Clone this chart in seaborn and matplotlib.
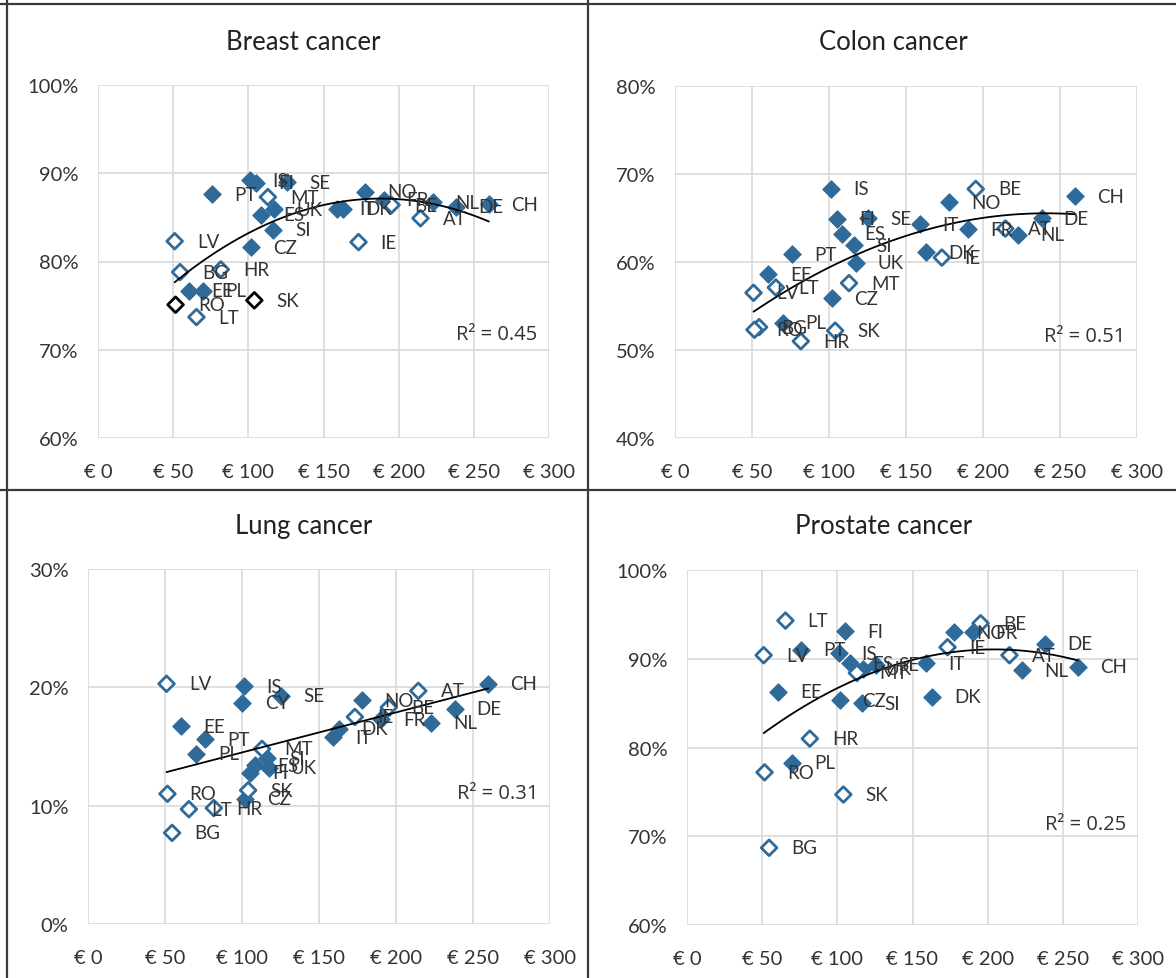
import numpy as np
import pandas as pd
import seaborn as sns
import matplotlib.pyplot as plt
from matplotlib.lines import Line2D
from matplotlib.ticker import FuncFormatter

nan = np.nan

countries = ["AT", "BE", "BG", "CH", "CY", "CZ", "DE", "DK", "EE", "ES", "FI", "FR", "HR", "IE",
             "IS", "IT", "LT", "LV", "MT", "NL", "NO", "PL", "PT", "RO", "SE", "SI", "SK", "UK"]
# spending per capita (EUR), same for all four panels
spend = [214.5, 195.3, 54.6, 260.0, 100.3, 102.0, 238.0, 163.0, 60.7, 108.2, 105.3, 190.2, 81.7, 173.3,
         101.0, 159.0, 65.5, 51.0, 113.0, 223.0, 177.7, 70.0, 76.0, 51.6, 125.5, 116.5, 104.0, 117.3]

# survival (%)
breast = [84.9, 86.4, 78.8, 86.5, nan, 81.6, 86.2, 86.0, 76.7, 85.3, 88.9, 87.0, 79.1, 82.2,
          89.2, 86.0, 73.7, 82.3, 87.3, 86.7, 87.9, 76.7, 87.6, 75.1, 89.0, 83.6, 75.6, 85.9]
colon = [63.8, 68.3, 52.6, 67.5, nan, 55.9, 65.0, 61.1, 58.6, 63.2, 64.9, 63.7, 51.0, 60.5,
         68.3, 64.3, 57.1, 56.5, 57.6, 63.1, 66.8, 53.1, 60.9, 52.3, 65.0, 61.9, 52.2, 59.9]
lung = [19.7, 18.3, 7.7, 20.3, 18.7, 10.6, 18.2, 16.5, 16.7, 13.4, 12.8, 17.3, 9.8, 17.5,
        20.1, 15.8, 9.7, 20.3, 14.8, 17.0, 18.9, 14.4, 15.6, 11.0, 19.3, 14.0, 11.3, 13.2]
prostate = [90.4, 94.0, 68.7, 89.1, nan, 85.3, 91.7, 85.7, 86.3, 89.5, 93.1, 93.0, 81.0, 91.3,
            90.6, 89.5, 94.3, 90.4, 88.4, 88.7, 93.0, 78.3, 91.0, 77.2, 89.3, 85.0, 74.7, 88.9]

hollow = ["AT", "BE", "BG", "HR", "IE", "LT", "LV", "MT", "RO", "SK"]
black_edge_breast = ["RO", "SK"]

titles = ["Breast cancer", "Colon cancer", "Lung cancer", "Prostate cancer"]
r2_text = ["R² = 0.45", "R² = 0.51", "R² = 0.31", "R² = 0.25"]
y_ticks = [[60, 70, 80, 90, 100], [40, 50, 60, 70, 80], [0, 10, 20, 30], [60, 70, 80, 90, 100]]
x_ticks = [0, 50, 100, 150, 200, 250, 300]

df = pd.DataFrame({"country": countries, "spend": spend, "Breast cancer": breast,
                   "Colon cancer": colon, "Lung cancer": lung, "Prostate cancer": prostate})
df["hollow"] = df["country"].isin(hollow)

sns.set_style("white")
plt.rcParams["font.family"] = ["Lato", "DejaVu Sans"]

W, H = 1176, 979
BLUE = "#2E6B9B"
TEXT = "#333333"

# axes boxes in pixels: left, top, right, bottom
boxes = [(98, 86, 549, 439), (675, 87, 1137, 439), (88, 570, 550, 925), (687, 571, 1138, 926)]
title_pos = [(303, 42), (893, 42), (304, 527), (884, 527)]
r2_y = [0.295, 0.29, 0.37, 0.285]
orders = [2, 2, 1, 2]

fig = plt.figure(figsize=(W / 100, H / 100), dpi=100)

for i, col in enumerate(titles):
    l, t, r, b = boxes[i]
    ax = fig.add_axes([l / W, 1 - b / H, (r - l) / W, (b - t) / H])
    d = df.dropna(subset=[col])

    filled = d[~d["hollow"]]
    open_ = d[d["hollow"]]
    edges = ["black" if (i == 0 and c in black_edge_breast) else BLUE for c in open_["country"]]

    sns.scatterplot(data=filled, x="spend", y=col, marker="D", s=78, color=BLUE,
                    edgecolor=BLUE, linewidth=0.8, ax=ax, zorder=3)
    sns.scatterplot(data=open_, x="spend", y=col, marker="D", s=64, color="white",
                    edgecolor=edges, linewidth=2.0, ax=ax, zorder=3)
    sns.regplot(data=d, x="spend", y=col, order=orders[i], ci=None, scatter=False, truncate=True,
                line_kws={"color": "black", "lw": 1.3, "zorder": 4}, ax=ax)

    for _, row in d.iterrows():
        ax.annotate(row["country"], (row["spend"], row[col]), xytext=(16, 0),
                    textcoords="offset points", ha="left", va="center",
                    fontsize=13.5, color=TEXT, zorder=5)

    ax.set_xlim(0, 300)
    ax.set_ylim(y_ticks[i][0], y_ticks[i][-1])
    ax.set_xticks(x_ticks)
    ax.set_yticks(y_ticks[i])
    ax.xaxis.set_major_formatter(FuncFormatter(lambda v, p: f"€ {v:.0f}"))
    ax.yaxis.set_major_formatter(FuncFormatter(lambda v, p: f"{v:.0f}%"))
    ax.tick_params(length=0, labelsize=14.5, labelcolor=TEXT)
    ax.tick_params(axis="x", pad=18)
    ax.tick_params(axis="y", pad=14)
    ax.grid(True, color="#d9d9d9", lw=1.2)
    ax.set_axisbelow(True)
    for s in ax.spines.values():
        s.set_visible(False)
    ax.set_xlabel("")
    ax.set_ylabel("")

    ax.text(0.975, r2_y[i], r2_text[i], transform=ax.transAxes, ha="right", va="center",
            fontsize=14.5, color=TEXT, family=["Open Sans", "DejaVu Sans"])
    tx, ty = title_pos[i]
    fig.text(tx / W, 1 - ty / H, col, ha="center", va="center", fontsize=18.5, color="#222222")

# panel frames
line_kw = dict(transform=fig.transFigure, color="#3a3a3a", lw=1.6)
fig.add_artist(Line2D([588 / W, 588 / W], [0, 1], **line_kw))
fig.add_artist(Line2D([0, 1], [1 - 491 / H, 1 - 491 / H], **line_kw))
fig.add_artist(Line2D([7 / W, 7 / W], [0, 1], **line_kw))
fig.add_artist(Line2D([0, 1], [1 - 5 / H, 1 - 5 / H], **line_kw))

fig.savefig("out.png", dpi=100)
